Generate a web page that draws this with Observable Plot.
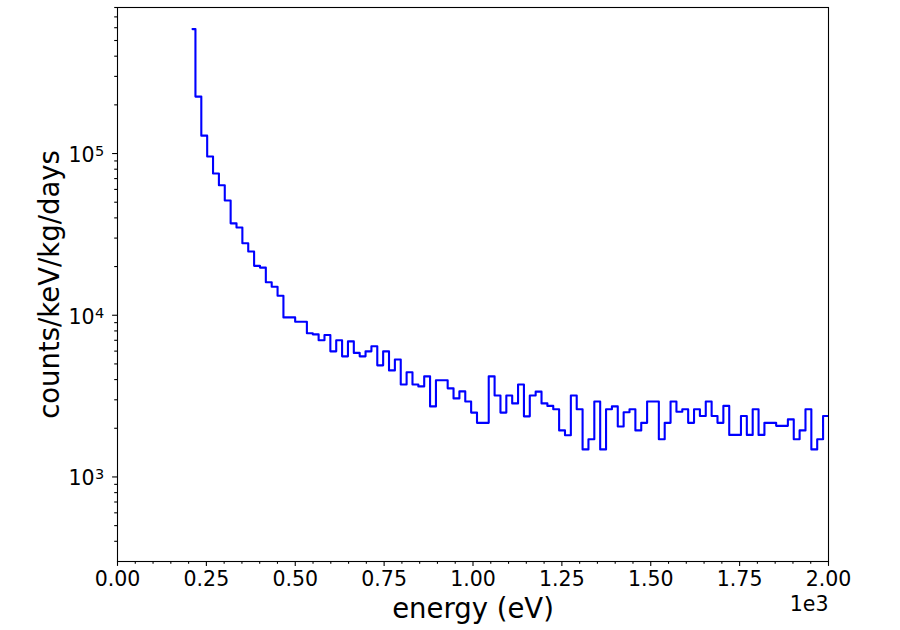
<!DOCTYPE html>
<html>
<head>
<meta charset="utf-8">
<script src="https://cdn.jsdelivr.net/npm/d3@7"></script>
<script src="https://cdn.jsdelivr.net/npm/@observablehq/plot@0.6"></script>
<style>
  html, body { margin: 0; padding: 0; background: #ffffff; }
  #chart { width: 900px; height: 630px; }
</style>
</head>
<body>
<div id="chart"></div>
<script>
// Bin centres (eV)
const energy = [
  211, 227.5, 244, 260.5, 277, 293.5, 310, 326.5, 343, 359.5,
  376, 392.5, 409, 425.5, 442, 458.5, 475, 491.5, 508, 524.5,
  541, 557.5, 574, 590.5, 607, 623.5, 640, 656.5, 673, 689.5,
  706, 722.5, 739, 755.5, 772, 788.5, 805, 821.5, 838, 854.5,
  871, 887.5, 904, 920.5, 937, 953.5, 970, 986.5, 1003, 1019.5,
  1036, 1052.5, 1069, 1085.5, 1102, 1118.5, 1135, 1151.5, 1168, 1184.5,
  1201, 1217.5, 1234, 1250.5, 1267, 1283.5, 1300, 1316.5, 1333, 1349.5,
  1366, 1382.5, 1399, 1415.5, 1432, 1448.5, 1465, 1481.5, 1498, 1514.5,
  1531, 1547.5, 1564, 1580.5, 1597, 1613.5, 1630, 1646.5, 1663, 1679.5,
  1696, 1712.5, 1729, 1745.5, 1762, 1778.5, 1795, 1811.5, 1828, 1844.5,
  1861, 1877.5, 1894, 1910.5, 1927, 1943.5, 1960, 1976.5, 1993
];

// counts/keV/kg/days
const rate = [
  588000, 225000, 129000, 95800, 75200, 63700, 51200, 37000, 34900, 27900,
  24800, 20200, 19700, 16000, 15000, 13200, 9700, 9700, 9120, 9120,
  7730, 7620, 7000, 7550, 5980, 7000, 5570, 6890, 5850, 5570,
  5980, 6430, 4900, 5980, 4560, 5330, 3730, 4440, 3730, 3630,
  4190, 2730, 3960, 3960, 3530, 3060, 3380, 2930, 2500, 2160,
  2160, 4190, 3190, 2500, 3190, 2850, 3730, 2370, 3190, 3370,
  2850, 2750, 2620, 1940, 1810, 3190, 2620, 1480, 1710, 2930,
  1480, 2620, 2730, 2050, 2510, 2620, 1940, 2160, 2930, 2930,
  1710, 2160, 2930, 2530, 2620, 2160, 2620, 2380, 2930, 2380,
  2160, 2750, 1820, 1820, 2380, 1820, 2620, 1820, 2160, 2160,
  2070, 2070, 2270, 1710, 1940, 2620, 1480, 1710, 2380
];

// Axis ticks
const xMajorTicks = [0, 250, 500, 750, 1000, 1250, 1500, 1750, 2000];
const xMinorTicks = [50, 100, 150, 200, 300, 350, 400, 450, 550, 600, 650, 700,
  800, 850, 900, 950, 1050, 1100, 1150, 1200, 1300, 1350, 1400, 1450,
  1550, 1600, 1650, 1700, 1800, 1850, 1900, 1950];
const yMajorTicks = [1e3, 1e4, 1e5];
const yTickBase = "10";
const yTickExponents = ["3", "4", "5"];
const yMinorTicks = [400, 500, 600, 700, 800, 900,
  2000, 3000, 4000, 5000, 6000, 7000, 8000, 9000,
  20000, 30000, 40000, 50000, 60000, 70000, 80000, 90000,
  200000, 300000, 400000, 500000, 600000, 700000, 800000];

const xLabel = "energy (eV)";
const yLabel = "counts/keV/kg/days";
const xOffsetLabel = "1e3";

const data = energy.map((e, i) => ({energy: e, value: rate[i]}));
// extend final bin level to the right edge of the axis
data.push({energy: 2000, value: rate[rate.length - 1]});

const tickFont = 20.5;
const expFont = 14.5;
const labelFont = 27.5;
const blank = () => "";

const chart = Plot.plot({
  width: 900,
  height: 630,
  marginLeft: 117,
  marginRight: 72,
  marginTop: 7,
  marginBottom: 69,
  style: {fontFamily: "'DejaVu Sans', sans-serif", background: "#ffffff", color: "#000000"},
  x: {domain: [0, 2000], axis: null},
  y: {type: "log", domain: [300, 800000], axis: null},
  marks: [
    Plot.line(data, {x: "energy", y: "value", curve: "step", stroke: "#0000ff", strokeWidth: 2.1, clip: true}),
    Plot.frame({stroke: "#000000", strokeWidth: 1.1}),
    Plot.axisX({ticks: xMinorTicks, tickSize: 2.8, tickFormat: blank, strokeWidth: 1.1, anchor: "bottom", label: null}),
    Plot.axisX({ticks: xMajorTicks, tickSize: 4.9, tickPadding: 5, strokeWidth: 1.1, anchor: "bottom",
      tickFormat: d => (d / 1000).toFixed(2), fontSize: tickFont, label: null}),
    Plot.axisY({ticks: yMinorTicks, tickSize: 2.8, tickFormat: blank, strokeWidth: 1.1, anchor: "left", label: null}),
    Plot.axisY({ticks: yMajorTicks, tickSize: 4.9, tickFormat: blank, strokeWidth: 1.1, anchor: "left", label: null}),
    // y tick labels: "10" with a raised, smaller exponent (mathtext style)
    Plot.text(yMajorTicks, {y: d => d, text: () => yTickBase, frameAnchor: "left", textAnchor: "end",
      lineAnchor: "bottom", dx: -23, dy: 8.5, fontSize: tickFont}),
    Plot.text(yMajorTicks, {y: d => d, text: (d, i) => yTickExponents[i], frameAnchor: "left", textAnchor: "start",
      lineAnchor: "bottom", dx: -22.5, dy: 2.3, fontSize: expFont}),
    Plot.text([xLabel], {text: d => d, frameAnchor: "bottom", textAnchor: "middle", lineAnchor: "bottom", dy: 56, fontSize: labelFont}),
    Plot.text([yLabel], {text: d => d, frameAnchor: "left", textAnchor: "middle", lineAnchor: "bottom", rotate: -90, dx: -59, fontSize: labelFont}),
    Plot.text([xOffsetLabel], {text: d => d, frameAnchor: "bottom-right", textAnchor: "end", lineAnchor: "bottom", dy: 49, fontSize: tickFont})
  ]
});

document.getElementById("chart").appendChild(chart);
</script>
</body>
</html>
